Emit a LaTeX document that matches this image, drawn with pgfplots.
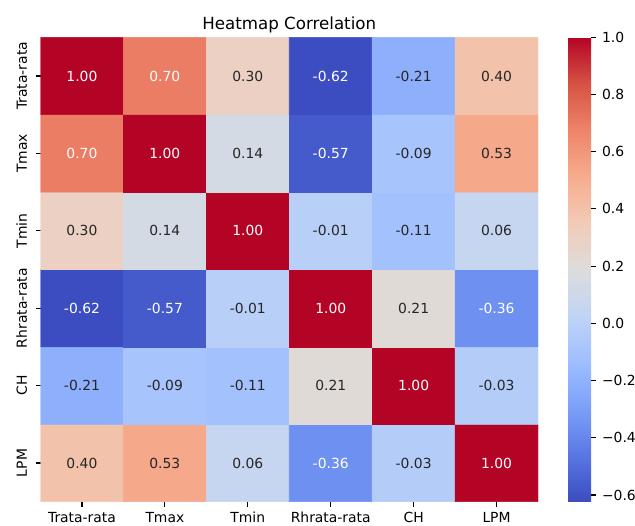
\documentclass[border=0pt]{standalone}
\usepackage{fontspec}
\setmainfont{DejaVu Sans}
\usepackage{pgfplots}
\usepackage{pgfplotstable}
\pgfplotsset{compat=1.18}

\definecolor{darktext}{gray}{0.15}

% coolwarm, sampled at 11 equally spaced stops
\pgfplotsset{
  colormap={coolwarm}{
    rgb255=(59,76,192) rgb255=(89,119,227) rgb255=(123,159,249)
    rgb255=(158,190,255) rgb255=(192,212,245) rgb255=(221,220,220)
    rgb255=(242,203,183) rgb255=(247,172,142) rgb255=(238,132,104)
    rgb255=(214,82,68) rgb255=(180,4,38)
  }
}

% light text on the saturated cells, dark text elsewhere
\newcommand\celllabel{%
  \pgfkeys{/pgf/fpu=true,/pgf/fpu/output format=fixed}%
  \pgfmathparse{or(\pgfplotspointmeta>0.6,\pgfplotspointmeta<-0.3)}%
  \let\iswhite\pgfmathresult
  \pgfkeys{/pgf/fpu=false}%
  \ifdim\iswhite pt>0.5pt\color{white}\else\color{darktext}\fi
  \pgfmathprintnumber[fixed,fixed zerofill,precision=2,assume math mode=true]{\pgfplotspointmeta}}

% correlation matrix, x = column, y = 5 - row (bottom row first)
\pgfplotstableread{
x y c
0 0 0.40
1 0 0.53
2 0 0.06
3 0 -0.36
4 0 -0.03
5 0 1.00
0 1 -0.21
1 1 -0.09
2 1 -0.11
3 1 0.21
4 1 1.00
5 1 -0.03
0 2 -0.62
1 2 -0.57
2 2 -0.01
3 2 1.00
4 2 0.21
5 2 -0.36
0 3 0.30
1 3 0.14
2 3 1.00
3 3 -0.01
4 3 -0.11
5 3 0.06
0 4 0.70
1 4 1.00
2 4 0.14
3 4 -0.57
4 4 -0.09
5 4 0.53
0 5 1.00
1 5 0.70
2 5 0.30
3 5 -0.62
4 5 -0.21
5 5 0.40
}\corrtable

\begin{document}
\begin{tikzpicture}
\useasboundingbox (0,0) rectangle (457.2pt,378pt);
\begin{axis}[
  at={(29.16pt,16.78pt)}, anchor=south west,
  scale only axis, width=358.2pt, height=334.4pt,
  xmin=-0.5, xmax=5.5, ymin=-0.5, ymax=5.5,
  enlargelimits=false,
  xtick={0,...,5}, ytick={0,...,5},
  xticklabels={Trata-rata,Tmax,Tmin,Rhrata-rata,CH,LPM},
  yticklabels={LPM,CH,Rhrata-rata,Tmin,Tmax,Trata-rata},
  axis x line*=bottom, axis y line*=left,
  axis line style={draw=none},
  tick align=outside, major tick length=3.5pt,
  tick style={line width=0.8pt, black},
  xticklabel style={font=\fontsize{10}{12}\selectfont, anchor=base, yshift=-11.4pt},
  yticklabel style={font=\fontsize{10}{12}\selectfont, xshift=-6.4pt, rotate=90, anchor=base},
  title={Heatmap Correlation},
  title style={at={(0.5,1)}, anchor=base, yshift=-0.24pt, font=\fontsize{12}{14}\selectfont},
  colormap name=coolwarm,
  point meta min=-0.6234, point meta max=1,
  colorbar,
  colorbar/width=16.56pt,
  colorbar style={
    at={(parent axis.north east)}, anchor=north west, xshift=13.1pt,
    scale only axis, width=16.56pt, height=334.4pt,
    axis line style={draw=none},
    ytick={-0.6,-0.4,-0.2,0,0.2,0.4,0.6,0.8,1.0},
    yticklabels={−0.6,−0.4,−0.2,0.0,0.2,0.4,0.6,0.8,1.0},
    ytick pos=right, tick align=outside, major tick length=3.5pt,
    tick style={line width=0.8pt, black},
    yticklabel style={font=\fontsize{10}{12}\selectfont, anchor=west, inner sep=0pt, xshift=4.2pt},
  },
]
\addplot[
  matrix plot*, mesh/cols=6, point meta=explicit,
  nodes near coords={\celllabel},
  every node near coord/.append style={anchor=center, font=\fontsize{10}{12}\selectfont},
] table[x=x, y=y, meta=c] {\corrtable};
\end{axis}
\end{tikzpicture}
\end{document}
